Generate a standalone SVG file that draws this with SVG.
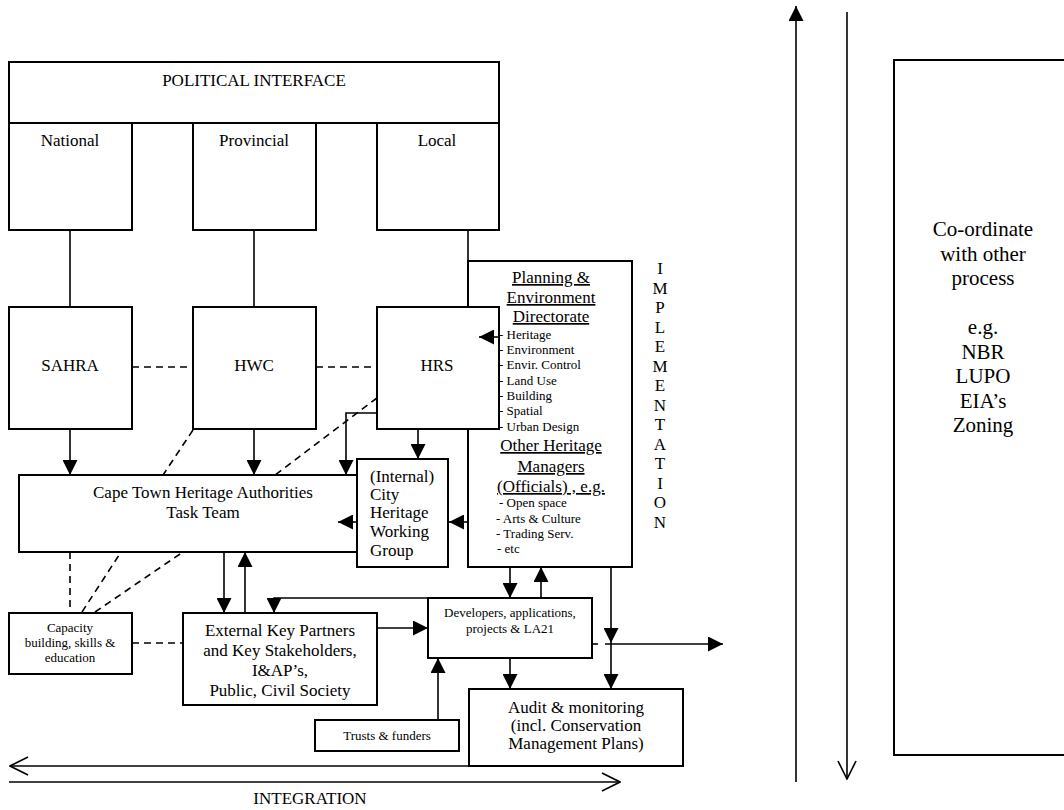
<svg xmlns="http://www.w3.org/2000/svg" width="1064" height="810" viewBox="0 0 1064 810">
<defs>
<style>
.box{fill:#fff;stroke:#000;stroke-width:2}
.ln{fill:none;stroke:#000;stroke-width:1.6}
.ds{fill:none;stroke:#000;stroke-width:1.6;stroke-dasharray:7 5}
.a{marker-end:url(#ah)}
.o{marker-end:url(#oh)}
text{font-family:"Liberation Serif","Times New Roman",serif;fill:#000}
.t17{font-size:17px;text-anchor:middle}
.t13{font-size:13px;text-anchor:middle}
.l13{font-size:13px}
.l17{font-size:17px}
.t21{font-size:21px;text-anchor:middle}
.u{text-decoration:underline}
</style>
<marker id="ah" viewBox="0 0 15 15" refX="15" refY="7.5" markerWidth="15" markerHeight="15" markerUnits="userSpaceOnUse" orient="auto"><path d="M0,0 L15,7.5 L0,15 Z" fill="#000"/></marker>
<marker id="oh" viewBox="-1 -1 20 20" refX="18" refY="9" markerWidth="20" markerHeight="20" markerUnits="userSpaceOnUse" orient="auto"><path d="M0,0 L18,9 L0,18" fill="none" stroke="#000" stroke-width="1.6"/></marker>
</defs>
<rect width="1064" height="810" fill="#fff"/>

<g id="political"><rect class="box" x="9" y="62" width="490" height="61"/><text class="t17" x="254" y="86">POLITICAL INTERFACE</text></g>
<g id="national"><rect class="box" x="9" y="123" width="123" height="107"/><text class="t17" x="70" y="146">National</text></g>
<g id="provincial"><rect class="box" x="193" y="123" width="123" height="107"/><text class="t17" x="254" y="146">Provincial</text></g>
<g id="local"><rect class="box" x="377" y="123" width="122" height="107"/><text class="t17" x="437" y="146">Local</text></g>

<g id="planning"><rect class="box" x="468" y="261" width="164" height="306"/>
<text class="t17 u" x="551" y="283">Planning &amp;</text>
<text class="t17 u" x="551" y="303">Environment</text>
<text class="t17 u" x="551" y="322">Directorate</text>
<text class="l13" x="499" y="339">- Heritage</text>
<text class="l13" x="499" y="354">- Environment</text>
<text class="l13" x="499" y="369">- Envir. Control</text>
<text class="l13" x="499" y="385">- Land Use</text>
<text class="l13" x="499" y="400">- Building</text>
<text class="l13" x="499" y="415">- Spatial</text>
<text class="l13" x="499" y="431">- Urban Design</text>
<text class="t17 u" x="551" y="451">Other Heritage</text>
<text class="t17 u" x="551" y="472">Managers</text>
<text class="t17 u" x="551" y="492">(Officials) , e.g.</text>
<text class="l13" x="499" y="507">- Open space</text>
<text class="l13" x="496" y="523">- Arts &amp; Culture</text>
<text class="l13" x="496" y="538">- Trading Serv.</text>
<text class="l13" x="497" y="553">- etc</text>
</g>

<g id="sahra"><rect class="box" x="9" y="307" width="123" height="122"/><text class="t17" x="70" y="371">SAHRA</text></g>
<g id="hwc"><rect class="box" x="193" y="307" width="123" height="122"/><text class="t17" x="254" y="371">HWC</text></g>
<g id="hrs"><rect class="box" x="377" y="307" width="122" height="122"/><text class="t17" x="437" y="371">HRS</text></g>

<g id="implementation" class="t17">
<text x="660" y="274">I</text><text x="660" y="293.5">M</text><text x="660" y="313">P</text><text x="660" y="332.5">L</text><text x="660" y="352">E</text><text x="660" y="371.5">M</text><text x="660" y="391">E</text><text x="660" y="410.5">N</text><text x="660" y="430">T</text><text x="660" y="449.5">A</text><text x="660" y="469">T</text><text x="660" y="488.5">I</text><text x="660" y="508">O</text><text x="660" y="527.5">N</text>
</g>

<g id="taskteam"><rect class="box" x="19" y="475" width="338" height="77"/><text class="t17" x="203" y="498">Cape Town Heritage Authorities</text><text class="t17" x="203" y="518">Task Team</text></g>
<g id="internal"><rect class="box" x="357" y="459" width="91" height="108"/>
<text class="l17" x="370" y="482">(Internal)</text><text class="l17" x="370" y="500">City</text><text class="l17" x="370" y="518">Heritage</text><text class="l17" x="370" y="537">Working</text><text class="l17" x="370" y="556">Group</text></g>

<g id="capacity"><rect class="box" x="9" y="613" width="123" height="61"/><text class="t13" x="70" y="632">Capacity</text><text class="t13" x="70" y="647">building, skills &amp;</text><text class="t13" x="70" y="662">education</text></g>
<g id="external"><rect class="box" x="183" y="613" width="194" height="92"/><text class="t17" x="280" y="636">External Key Partners</text><text class="t17" x="280" y="656">and Key Stakeholders,</text><text class="t17" x="280" y="676">I&amp;AP’s,</text><text class="t17" x="280" y="696">Public, Civil Society</text></g>
<g id="developers"><rect class="box" x="428" y="598" width="164" height="60"/><text class="t13" x="510" y="617">Developers, applications,</text><text class="t13" x="510" y="633">projects &amp; LA21</text></g>
<g id="trusts"><rect class="box" x="315" y="720" width="144" height="31"/><text class="t13" x="387" y="740">Trusts &amp; funders</text></g>
<g id="audit"><rect class="box" x="469" y="689" width="214" height="77"/><text class="t17" x="576" y="713">Audit &amp; monitoring</text><text class="t17" x="576" y="731">(incl. Conservation</text><text class="t17" x="576" y="749">Management Plans)</text></g>

<g id="coordinate"><rect class="box" x="894" y="60" width="180" height="695"/>
<text class="t21" x="983" y="236">Co-ordinate</text><text class="t21" x="983" y="260.5">with other</text><text class="t21" x="983" y="285">process</text>
<text class="t21" x="983" y="334">e.g.</text><text class="t21" x="983" y="358.5">NBR</text><text class="t21" x="983" y="383">LUPO</text><text class="t21" x="983" y="407.5">EIA’s</text><text class="t21" x="983" y="432">Zoning</text></g>

<g id="integration-label"><text class="t17" x="310" y="804">INTEGRATION</text></g>

<g id="connectors">
<line class="ln" x1="70" y1="230" x2="70" y2="307"/>
<line class="ln" x1="254" y1="230" x2="254" y2="307"/>
<line class="ln" x1="468" y1="230" x2="468" y2="261"/>
<line class="ds" x1="132" y1="367" x2="193" y2="367"/>
<line class="ds" x1="316" y1="367" x2="377" y2="367"/>
<line class="ln a" x1="70" y1="429" x2="70" y2="475"/>
<line class="ln a" x1="254" y1="429" x2="254" y2="475"/>
<polyline class="ln a" points="377,413 346,413 346,475"/>
<line class="ln a" x1="418" y1="429" x2="418" y2="459"/>
<line class="ds" x1="193" y1="430" x2="163" y2="475"/>
<line class="ds" x1="377" y1="398" x2="275" y2="475"/>
<line class="ln a" x1="357" y1="522" x2="338" y2="522"/>
<line class="ln a" x1="468" y1="522" x2="449" y2="522"/>
<line class="ln a" x1="499" y1="337" x2="479" y2="337"/>
<line class="ln a" x1="224" y1="552" x2="224" y2="613"/>
<line class="ln a" x1="245" y1="613" x2="245" y2="552"/>
<line class="ds" x1="70" y1="552" x2="70" y2="612"/>
<line class="ds" x1="82" y1="612" x2="121" y2="552"/>
<line class="ds" x1="95" y1="612" x2="183" y2="552"/>
<line class="ds" x1="132" y1="643" x2="183" y2="643"/>
<polyline class="ln a" points="428,598 274,598 274,613"/>
<line class="ln a" x1="377" y1="628" x2="428" y2="628"/>
<line class="ln a" x1="438" y1="720" x2="438" y2="658"/>
<line class="ln a" x1="510" y1="567" x2="510" y2="598"/>
<line class="ln a" x1="541" y1="598" x2="541" y2="567"/>
<line class="ln a" x1="611" y1="567" x2="611" y2="643"/>
<line class="ln a" x1="611" y1="643" x2="611" y2="689"/>
<line class="ln" x1="592" y1="644" x2="598" y2="644"/>
<line class="ln a" x1="605" y1="644" x2="723" y2="644"/>
<line class="ln a" x1="510" y1="658" x2="510" y2="689"/>
<line class="ln a" x1="796" y1="782" x2="796" y2="6"/>
<line class="ln o" x1="847" y1="12" x2="847" y2="779"/>
<line class="ln o" x1="620" y1="766" x2="10" y2="766"/>
<line class="ln o" x1="9" y1="782" x2="620" y2="782"/>
</g>
</svg>
